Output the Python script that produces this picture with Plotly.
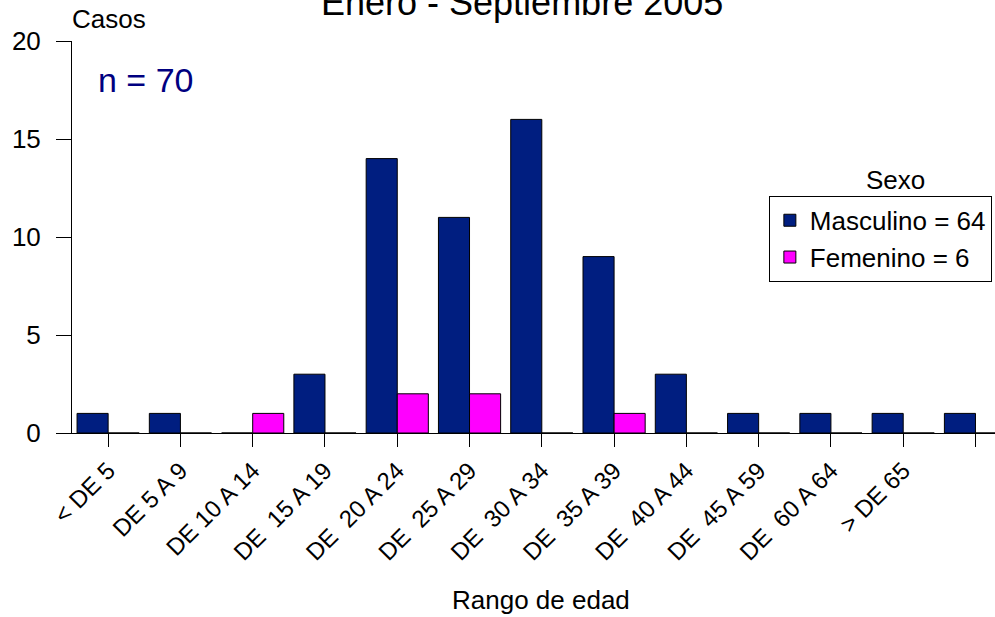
import plotly.graph_objects as go

categorias = ["< DE 5", "DE 5 A 9", "DE 10 A 14", "DE  15 A 19", "DE  20 A 24",
              "DE  25 A 29", "DE  30 A 34", "DE  35 A 39", "DE  40 A 44",
              "DE  45 A 59", "DE  60 A 64", "> DE 65", " "]
masculino = [1, 1, 0, 3, 14, 11, 16, 9, 3, 1, 1, 1, 1]
femenino = [0, 0, 1, 0, 2, 2, 0, 1, 0, 0, 0, 0, 0]
y_ticks = [0, 5, 10, 15, 20]

FONT = "Liberation Sans, Arial, sans-serif"
NAVY = "#001E80"
PINK = "#FF00FF"

fig = go.Figure()
fig.add_trace(go.Bar(x=categorias, y=masculino, name="Masculino = 64",
                     marker=dict(color=NAVY, line=dict(color="black", width=1))))
fig.add_trace(go.Bar(x=categorias, y=femenino, name="Femenino = 6",
                     marker=dict(color=PINK, line=dict(color="black", width=1))))

fig.update_layout(
    width=995, height=617,
    margin=dict(l=72, r=0, t=41, b=184),
    paper_bgcolor="white", plot_bgcolor="white",
    font=dict(family=FONT, size=26, color="black"),
    barmode="group", bargap=0.14, bargroupgap=0,
    showlegend=True,
    legend=dict(x=0.755, y=0.605, xanchor="left", yanchor="top",
                bordercolor="black", borderwidth=1, bgcolor="white",
                font=dict(size=26), tracegroupgap=0, itemwidth=30),
    annotations=[
        dict(text="Enero - Septiembre 2005", xref="paper", yref="paper",
             x=0.4875, y=1.0, yshift=16, xanchor="center", yanchor="bottom",
             showarrow=False, font=dict(size=36)),
        dict(text="Casos", xref="paper", yref="paper", x=0.0, y=1.0, xshift=-2,
             yshift=5, xanchor="left", yanchor="bottom", showarrow=False,
             font=dict(size=26)),
        dict(text="n = 70", xref="paper", yref="paper", x=0.0, y=1.0, xshift=24,
             yshift=-18, xanchor="left", yanchor="top", showarrow=False,
             font=dict(size=34, color="#000080")),
        dict(text="Sexo", xref="paper", yref="paper", x=0.892, y=0.645,
             xanchor="center", yanchor="middle", showarrow=False,
             font=dict(size=26)),
        dict(text="Rango de edad", xref="paper", yref="paper", x=0.508, y=0.0,
             yshift=-167, xanchor="center", yanchor="middle", showarrow=False,
             font=dict(size=26)),
    ],
)
fig.update_xaxes(type="category", range=[-0.5, 12.27], showline=True,
                 linecolor="black", linewidth=1, ticks="outside", ticklen=13,
                 tickcolor="black", tickangle=-45, showgrid=False,
                 tickfont=dict(size=24))
fig.update_yaxes(range=[0, 20], tickvals=y_ticks, showline=True, linecolor="black",
                 linewidth=1, ticks="outside", ticklen=15, tickcolor="black",
                 showgrid=False, zeroline=False, tickfont=dict(size=26),
                 ticklabelstandoff=10)

fig.write_html("out.html", config={"displayModeBar": False},
               post_script="document.body.style.margin='0';")
